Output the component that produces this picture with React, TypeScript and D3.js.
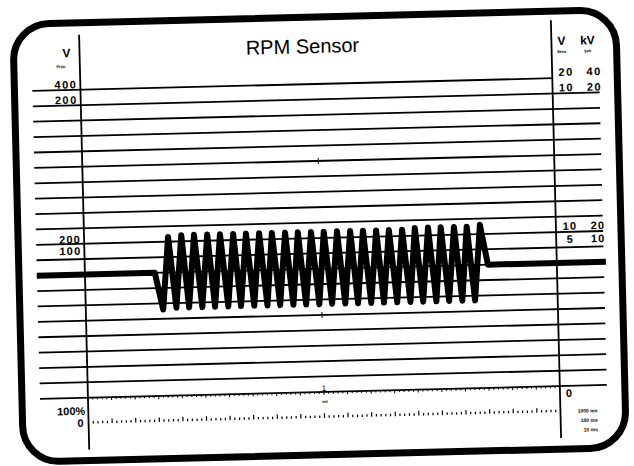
import * as d3 from "d3";

// trace samples: time in % of sweep, value in V (0-20 V scale)
const leadIn: [number, number][] = [
  [-10.2, 8.0],
  [14.8, 8.0],
];
const troughTimes = [
  16.4, 19.2, 21.9, 24.7, 27.4, 30.2, 32.9, 35.7, 38.5, 41.2, 44.0, 46.7, 49.5,
  52.2, 55.0, 57.7, 60.5, 63.2, 66.0, 68.8, 71.5, 74.3, 77.0, 79.8, 82.5,
];
const troughValues = [
  5.6, 5.7, 5.7, 5.7, 5.7, 5.7, 5.7, 5.7, 5.7, 5.7, 5.7, 5.7, 5.7, 5.7, 5.7,
  5.7, 5.7, 5.7, 5.7, 5.7, 5.7, 5.7, 5.7, 5.7, 5.7,
];
const peakTimes = [
  17.8, 20.6, 23.3, 26.1, 28.8, 31.6, 34.3, 37.1, 39.8, 42.6, 45.3, 48.1, 50.8,
  53.6, 56.4, 59.1, 61.9, 64.6, 67.4, 70.1, 72.9, 75.6, 78.4, 81.1, 83.9,
];
const peakValues = [
  10.3, 10.4, 10.4, 10.4, 10.4, 10.4, 10.4, 10.4, 10.4, 10.4, 10.4, 10.4, 10.4,
  10.4, 10.4, 10.4, 10.4, 10.4, 10.4, 10.5, 10.5, 10.5, 10.5, 10.5, 10.6,
];
const leadOut: [number, number][] = [
  [85.4, 8.0],
  [110.4, 8.0],
];

// scale labels
const leftTop = ["400", "200"];
const leftMid = ["200", "100"];
const rightTop = [
  ["20", "40"],
  ["10", "20"],
];
const rightMid = [
  ["10", "20"],
  ["5", "10"],
];
const timeBases = ["1000 ms", "100 ms", "10 ms"];

const W = 634;
const H = 466;
const font = "'Liberation Sans', Arial, sans-serif";

export default function App() {
  const x = d3.scaleLinear().domain([0, 100]).range([84, 556]);
  const y = d3.scaleLinear().domain([0, 20]).range([392, 84]);

  const pts: [number, number][] = [...leadIn];
  troughTimes.forEach((t, i) => {
    pts.push([t, troughValues[i]]);
    pts.push([peakTimes[i], peakValues[i]]);
  });
  pts.push(...leadOut);

  const line = d3
    .line<[number, number]>()
    .x((d) => x(d[0]))
    .y((d) => y(d[1]));

  const grid = d3.range(0, 21);
  const scaleTicks = d3.range(1, 100);
  const axisTicks = d3.range(0, 101);

  return (
    <svg
      width={W}
      height={H}
      style={{ position: "absolute", left: 0, top: 0, background: "#fff" }}
    >
      <g transform="rotate(-1.4, 317, 233)" fontFamily={font} fill="#000">
        <rect
          x={18}
          y={17}
          width={603}
          height={438}
          rx={36}
          fill="none"
          stroke="#000"
          strokeWidth={7}
        />

        {grid.map((v) => (
          <line
            key={v}
            x1={36}
            x2={v === 20 ? 556 : 603}
            y1={y(v)}
            y2={y(v)}
            stroke="#000"
            strokeWidth={1.8}
          />
        ))}

        <line x1={84} x2={84} y1={29} y2={444} stroke="#000" strokeWidth={1.8} />
        <line x1={556} x2={556} y1={26} y2={444} stroke="#000" strokeWidth={1.8} />

        {/* bottom axis ticks */}
        {axisTicks.map((t) => (
          <line
            key={t}
            x1={x(t)}
            x2={x(t)}
            y1={y(0)}
            y2={y(0) + (t % 5 === 0 ? 3 : 2)}
            stroke="#000"
            strokeWidth={1}
          />
        ))}

        {/* dotted time scale */}
        {scaleTicks.map((t) => (
          <line
            key={t}
            x1={x(t)}
            x2={x(t)}
            y1={417 - (t % 5 === 0 ? 3.5 : 1.5)}
            y2={418}
            stroke="#000"
            strokeWidth={1.2}
          />
        ))}

        {/* centre markers */}
        <line x1={x(50)} x2={x(50)} y1={y(15) - 3} y2={y(15) + 3} stroke="#000" strokeWidth={1} />
        <line x1={x(50)} x2={x(50)} y1={y(5) - 3} y2={y(5) + 3} stroke="#000" strokeWidth={1} />

        <path
          d={line(pts) ?? ""}
          fill="none"
          stroke="#000"
          strokeWidth={6}
          strokeLinejoin="round"
        />

        <text x={307} y={53} fontSize={20} textAnchor="middle">
          RPM Sensor
        </text>

        {/* left scale */}
        <text x={71} y={51} fontSize={12} fontWeight="bold" textAnchor="middle">
          V
        </text>
        <text x={65} y={62} fontSize={4} fontWeight="bold" textAnchor="middle">
          Prim
        </text>
        {leftTop.map((s, i) => (
          <text
            key={s + i}
            x={81}
            y={y(20 - i) - 1.5}
            fontSize={11}
            fontWeight="bold"
            letterSpacing={1.5}
            textAnchor="end"
          >
            {s}
          </text>
        ))}
        <text x={81} y={y(10) - 0.5} fontSize={11} fontWeight="bold" letterSpacing={1.2} textAnchor="end">
          {leftMid[0]}
        </text>
        <text x={81} y={y(10) + 11} fontSize={11} fontWeight="bold" letterSpacing={1.2} textAnchor="end">
          {leftMid[1]}
        </text>

        {/* right scale */}
        <text x={566} y={51} fontSize={12} fontWeight="bold" textAnchor="middle">
          V
        </text>
        <text x={592} y={51} fontSize={12} fontWeight="bold" textAnchor="middle">
          kV
        </text>
        <text x={566} y={59} fontSize={4} fontWeight="bold" textAnchor="middle">
          Sens
        </text>
        <text x={592} y={59} fontSize={4} fontWeight="bold" textAnchor="middle">
          Sek
        </text>
        {rightTop.map((pair, i) => (
          <g key={i} fontSize={11} fontWeight="bold" textAnchor="middle" letterSpacing={1.5}>
            <text x={570} y={82 + i * 15.5}>
              {pair[0]}
            </text>
            <text x={598} y={82 + i * 15.5}>
              {pair[1]}
            </text>
          </g>
        ))}
        {rightMid.map((pair, i) => (
          <g key={i} fontSize={11} fontWeight="bold" textAnchor="middle" letterSpacing={1.2}>
            <text x={570} y={y(10) - 2 + i * 13}>
              {pair[0]}
            </text>
            <text x={598} y={y(10) - 2 + i * 13}>
              {pair[1]}
            </text>
          </g>
        ))}
        <text x={565} y={403} fontSize={11} fontWeight="bold" textAnchor="middle">
          0
        </text>

        {/* bottom left */}
        <text x={81} y={409} fontSize={11} fontWeight="bold" textAnchor="end">
          100%
        </text>
        <text x={79} y={421} fontSize={11} fontWeight="bold" textAnchor="end">
          0
        </text>

        <text x={x(50)} y={y(0) - 1} fontSize={8} textAnchor="middle">
          1
        </text>
        <text x={x(50) + 1} y={403} fontSize={4} fontWeight="bold" textAnchor="middle">
          ms
        </text>

        {timeBases.map((s, i) => (
          <text key={s} x={593} y={419 + i * 9.5} fontSize={5} fontWeight="bold" textAnchor="end">
            {s}
          </text>
        ))}
      </g>
    </svg>
  );
}
